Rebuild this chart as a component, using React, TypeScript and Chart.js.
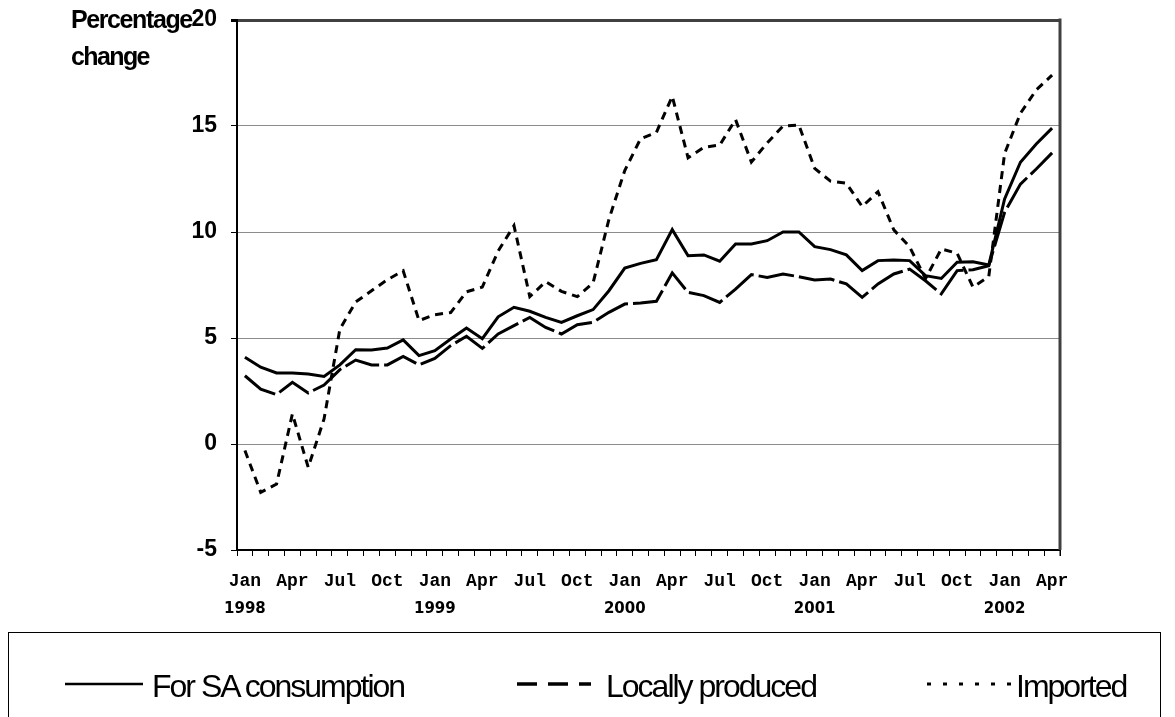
import { useEffect, useRef } from 'react';
import { Chart, registerables } from 'chart.js';

Chart.register(...registerables);

const MONTH_NAMES = ['Jan', 'Feb', 'Mar', 'Apr', 'May', 'Jun', 'Jul', 'Aug', 'Sep', 'Oct', 'Nov', 'Dec'];
const YEARS = ['1998', '1999', '2000', '2001', '2002'];
const TICK_MONTHS = ['Jan', 'Apr', 'Jul', 'Oct'];
const Y_TICKS = [-5, 0, 5, 10, 15, 20];
const SERIES_NAMES = ['For SA consumption', 'Locally produced', 'Imported'];

// Jan 1998 .. Apr 2002 (monthly)
const CATEGORIES: string[] = [];
for (const y of YEARS) {
  for (const m of MONTH_NAMES) {
    if (CATEGORIES.length < 52) CATEGORIES.push(`${m} ${y}`);
  }
}

const SA_CONSUMPTION = [
  4.09, 3.62, 3.35, 3.35, 3.30, 3.19, 3.73, 4.45, 4.43, 4.53, 4.91, 4.17,
  4.40, 4.95, 5.47, 4.97, 6.00, 6.45, 6.26, 5.97, 5.74, 6.05, 6.34, 7.23,
  8.30, 8.52, 8.69, 10.11, 8.88, 8.92, 8.62, 9.43, 9.43, 9.59, 10.00, 10.00,
  9.31, 9.17, 8.92, 8.18, 8.65, 8.68, 8.65, 7.94, 7.81, 8.57, 8.60, 8.44,
  11.56, 13.29, 14.15, 14.90,
];

const LOCALLY_PRODUCED = [
  3.22, 2.59, 2.33, 2.91, 2.41, 2.78, 3.51, 3.96, 3.73, 3.73, 4.13, 3.73,
  4.04, 4.64, 5.08, 4.51, 5.19, 5.58, 5.97, 5.50, 5.19, 5.63, 5.74, 6.21,
  6.60, 6.65, 6.73, 8.07, 7.15, 7.00, 6.68, 7.31, 7.99, 7.86, 8.02, 7.89,
  7.74, 7.78, 7.55, 6.92, 7.55, 8.02, 8.25, 7.70, 7.08, 8.18, 8.22, 8.41,
  10.93, 12.26, 12.97, 13.73,
];

const IMPORTED = [
  -0.31, -2.28, -1.89, 1.42, -1.10, 1.18, 5.42, 6.70, 7.23, 7.75, 8.17, 5.82,
  6.10, 6.20, 7.18, 7.40, 9.10, 10.30, 6.95, 7.66, 7.20, 6.95, 7.60, 10.60,
  12.90, 14.40, 14.70, 16.40, 13.50, 14.00, 14.10, 15.30, 13.30, 14.20, 15.00, 15.05,
  13.00, 12.40, 12.30, 11.20, 11.90, 10.10, 9.30, 7.80, 9.20, 9.00, 7.40, 7.90,
  13.70, 15.60, 16.70, 17.40,
];

const SANS = '"Liberation Sans", Arial, sans-serif';

const framePlugin = {
  id: 'frame',
  afterDraw(chart: any) {
    const { ctx, chartArea: a } = chart;
    ctx.save();
    ctx.strokeStyle = '#404040';
    ctx.lineWidth = 3;
    ctx.beginPath();
    ctx.moveTo(a.right, a.top - 1.5);
    ctx.lineTo(a.right, a.bottom);
    ctx.stroke();
    ctx.strokeStyle = '#000';
    ctx.lineWidth = 1;
    ctx.beginPath();
    ctx.moveTo(a.right, a.bottom);
    ctx.lineTo(a.right, a.bottom + 6);
    ctx.stroke();
    ctx.restore();
  },
};

export default function App() {
  const canvasRef = useRef<HTMLCanvasElement | null>(null);

  useEffect(() => {
    const canvas = canvasRef.current;
    if (!canvas) return;
    const chart = new Chart(canvas, {
      type: 'line',
      data: {
        labels: CATEGORIES,
        datasets: [
          {
            label: SERIES_NAMES[0],
            data: SA_CONSUMPTION,
            borderColor: '#000',
            borderWidth: 3,
            pointRadius: 0,
            tension: 0,
            fill: false,
          },
          {
            label: SERIES_NAMES[1],
            data: LOCALLY_PRODUCED,
            borderColor: '#000',
            borderWidth: 3,
            borderDash: [36, 5],
            pointRadius: 0,
            tension: 0,
            fill: false,
          },
          {
            label: SERIES_NAMES[2],
            data: IMPORTED,
            borderColor: '#000',
            borderWidth: 3,
            borderDash: [8, 6],
            pointRadius: 0,
            tension: 0,
            fill: false,
          },
        ],
      },
      options: {
        responsive: false,
        animation: false,
        devicePixelRatio: 1,
        layout: { padding: { top: 20, right: 115, left: 0, bottom: 0 } },
        plugins: { legend: { display: false }, tooltip: { enabled: false } },
        scales: {
          y: {
            min: Y_TICKS[0],
            max: Y_TICKS[Y_TICKS.length - 1],
            afterBuildTicks: (s: any) => {
              s.ticks = Y_TICKS.map((v) => ({ value: v }));
            },
            afterFit: (s: any) => {
              s.width = 237;
              s.paddingTop = 0;
              s.paddingBottom = 0;
            },
            ticks: {
              color: '#000',
              padding: 14,
              font: { family: SANS, weight: 'bold', size: 23 },
            },
            grid: {
              color: (c: any) =>
                c.tick && c.tick.value === 20 ? '#404040' : c.tick && c.tick.value === -5 ? '#000' : '#8c8c8c',
              lineWidth: (c: any) => (c.tick && c.tick.value === 20 ? 3 : 1),
              tickColor: '#000',
              tickLength: 6,
            },
            border: { display: true, color: '#000', width: 2 },
          },
          x: {
            type: 'category',
            position: 'bottom',
            offset: true,
            afterFit: (s: any) => {
              s.height = 40;
              s.paddingLeft = 0;
              s.paddingRight = 0;
            },
            ticks: {
              autoSkip: false,
              maxRotation: 0,
              minRotation: 0,
              padding: 15,
              color: '#000',
              font: { family: '"Liberation Mono", "Courier New", monospace', weight: 'bold', size: 18 },
              callback: (_v: any, i: number) => {
                const m = CATEGORIES[i].split(' ')[0];
                return TICK_MONTHS.includes(m) ? m : '';
              },
            },
            grid: {
              display: true,
              offset: true,
              drawOnChartArea: false,
              drawTicks: true,
              tickLength: 6,
              color: '#000',
              tickColor: '#000',
            },
            border: { display: true, color: '#000', width: 2 },
          },
          x2: {
            type: 'category',
            position: 'bottom',
            offset: true,
            afterFit: (s: any) => {
              s.height = 40;
              s.paddingLeft = 0;
              s.paddingRight = 0;
            },
            ticks: {
              autoSkip: false,
              maxRotation: 0,
              minRotation: 0,
              padding: 2,
              color: '#000',
              font: { family: '"DejaVu Sans", Verdana, sans-serif', weight: 'bold', size: 15 },
              callback: (_v: any, i: number) => {
                const [m, y] = CATEGORIES[i].split(' ');
                return m === 'Jan' ? y : '';
              },
            },
            grid: { display: false },
            border: { display: false },
          },
        },
      },
      plugins: [framePlugin],
    } as any);
    return () => chart.destroy();
  }, []);

  const textStyle = {
    position: 'absolute' as const,
    fontFamily: SANS,
    fontSize: 32,
    lineHeight: '32px',
    letterSpacing: '-2px',
    color: '#000',
    whiteSpace: 'nowrap' as const,
    top: 670,
  };

  const legendY = 684;

  return (
    <div style={{ position: 'absolute', left: 0, top: 0, width: 1175, height: 717, background: '#fff', overflow: 'hidden' }}>
      <canvas ref={canvasRef} width={1175} height={630} style={{ position: 'absolute', left: 0, top: 0 }} />
      <div
        style={{
          position: 'absolute',
          left: 71,
          top: 7,
          fontFamily: SANS,
          fontWeight: 'bold',
          fontSize: 25,
          lineHeight: '25px',
          letterSpacing: '-1.4px',
          color: '#000',
          whiteSpace: 'nowrap',
        }}
      >
        Percentage
      </div>
      <div
        style={{
          position: 'absolute',
          left: 71,
          top: 44,
          fontFamily: SANS,
          fontWeight: 'bold',
          fontSize: 25,
          lineHeight: '25px',
          letterSpacing: '-1.6px',
          color: '#000',
          whiteSpace: 'nowrap',
        }}
      >
        change
      </div>
      <div
        style={{
          position: 'absolute',
          left: 8,
          top: 632,
          width: 1153,
          height: 140,
          border: '1px solid #000',
          boxSizing: 'border-box',
        }}
      />
      <svg width={1175} height={717} style={{ position: 'absolute', left: 0, top: 0, pointerEvents: 'none' }}>
        <line x1={65} y1={legendY} x2={143} y2={legendY} stroke="#000" strokeWidth={2.5} />
        <line x1={517} y1={legendY} x2={591} y2={legendY} stroke="#000" strokeWidth={3.5} strokeDasharray="20 11" />
        <line x1={927} y1={legendY} x2={1011} y2={legendY} stroke="#000" strokeWidth={3} strokeDasharray="4 12" />
      </svg>
      <span style={{ ...textStyle, left: 152 }}>{SERIES_NAMES[0]}</span>
      <span style={{ ...textStyle, left: 606 }}>{SERIES_NAMES[1]}</span>
      <span style={{ ...textStyle, left: 1016 }}>{SERIES_NAMES[2]}</span>
    </div>
  );
}
